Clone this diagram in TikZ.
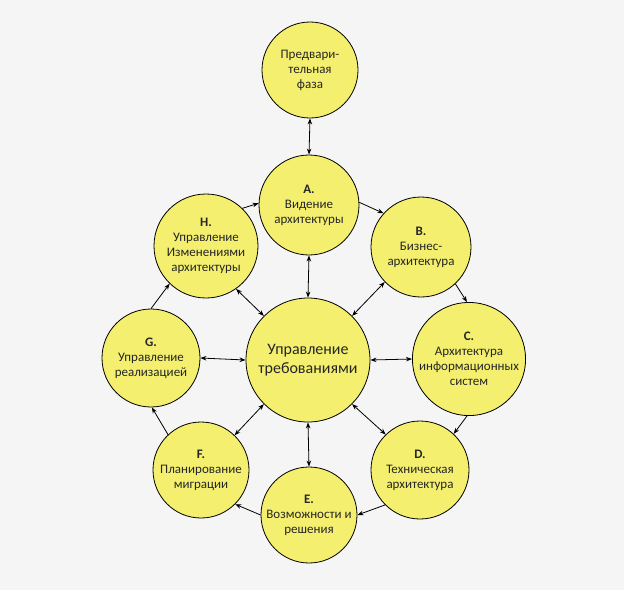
\documentclass[tikz,border=0pt]{standalone}
\usepackage{fontspec}
\setmainfont{Carlito}
\usetikzlibrary{arrows.meta}
\definecolor{bgc}{HTML}{F5F5F5}
\definecolor{fillc}{HTML}{F4EF6E}
\definecolor{txtc}{HTML}{262626}
\tikzset{
  phase/.style={circle, draw=black, line width=0.8pt, fill=fillc, inner sep=0pt, align=center,
    text=txtc, font=\fontsize{13}{15}\selectfont},
  conn/.style={line width=0.8pt, -{Stealth[length=6pt,width=4.5pt]}},
  bconn/.style={line width=0.8pt, {Stealth[length=6pt,width=4.5pt]}-{Stealth[length=6pt,width=4.5pt]}}
}
\begin{document}
\begin{tikzpicture}[x=1pt,y=-1pt]
\fill[bgc] (0,0) rectangle (624,590);
\useasboundingbox (0,0) rectangle (624,590);
\node[phase, minimum size=96pt] (P) at (310,70) {Предвари-\\тельная\\фаза};
\node[phase, minimum size=100pt] (A) at (309,205) {\textbf{A.}\\Видение\\архитектуры};
\node[phase, minimum size=100pt] (B) at (421,247) {\textbf{B.}\\Бизнес-\\архитектура};
\node[phase, minimum size=104pt] (H) at (206,246) {\textbf{H.}\\Управление\\Изменениями\\архитектуры};
\node[phase, minimum size=124pt, font=\fontsize{16}{19}\selectfont] (Z) at (308,360) {Управление\\требованиями};
\node[phase, minimum size=102pt] (C) at (469,359) {\textbf{C.}\\Архитектура\\информационных\\систем};
\node[phase, minimum size=98pt] (G) at (151,358) {\textbf{G.}\\Управление\\реализацией};
\node[phase, minimum size=96pt] (F) at (201,470) {\textbf{F.}\\Планирование\\миграции};
\node[phase, minimum size=96pt] (E) at (309,515) {\textbf{E.}\\Возможности и\\решения};
\node[phase, minimum size=98pt] (D) at (420,470) {\textbf{D.}\\Техническая\\архитектура};
% ring
\draw[conn] (A.3) -- (B.138);
\draw[conn] (B.-47) -- (C.92);
\draw[conn] (C.-92) -- (D.47);
\draw[conn] (D.225) -- (E.0);
\draw[conn] (E.180) -- (F.-45);
\draw[conn] (F.133) -- (G.-89);
\draw[conn] (G.90) -- (H.226);
\draw[conn] (H.46) -- (A.178);
% spokes
\draw[bconn] (P.south) -- (A.north);
\draw[bconn] (Z.north) -- (A.south);
\draw[bconn] (Z.135) -- (H.-55);
\draw[bconn] (Z.45) -- (B.224);
\draw[bconn] (Z.east) -- (C.west);
\draw[bconn] (Z.west) -- (G.east);
\draw[bconn] (Z.225) -- (F.46);
\draw[bconn] (Z.-45) -- (D.134);
\draw[bconn] (Z.south) -- (E.north);
\end{tikzpicture}
\end{document}
